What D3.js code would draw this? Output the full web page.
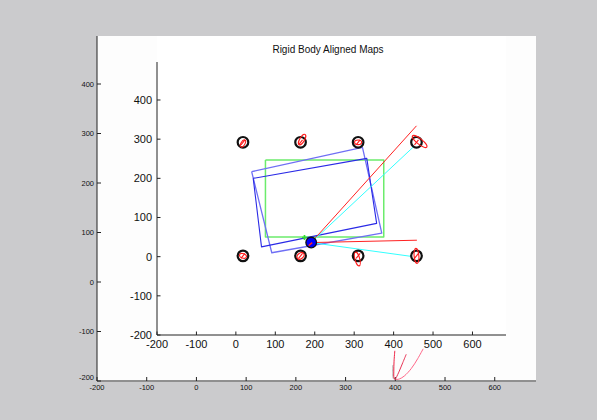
<!DOCTYPE html>
<html>
<head>
<meta charset="utf-8">
<script src="https://cdn.jsdelivr.net/npm/d3@7"></script>
<style>
  body { margin: 0; background: #cbcbcd; }
  svg { display: block; font-family: "Liberation Sans", Arial, sans-serif; }
</style>
</head>
<body>
<svg id="chart" width="597" height="420"></svg>
<script>
const title = "Rigid Body Aligned Maps";
const xTicks = [-200, -100, 0, 100, 200, 300, 400, 500, 600];
const yTicks = [-200, -100, 0, 100, 200, 300, 400];

// landmarks (map units)
const landmarkX = [18, 164, 310, 458, 18, 164, 310, 458];
const landmarkY = [292, 292, 292, 292, 2, 2, 2, 2];
// red uncertainty ellipses around each landmark
const ellipseDx = [0, 4, 0, 8, 0, 0, -2, 0];
const ellipseDy = [-3, 7, 0, 2, 0, 0, -8, 0];
const ellipseRx = [10, 15, 9, 23, 9, 10, 18, 19];
const ellipseRy = [5, 6, 6, 7, 6, 7, 6, 6];
const ellipseAngle = [-60, -60, 0, 38, 20, -40, 75, 85];

// green reference map
const greenX = [75, 375, 375, 75, 75];
const greenY = [247, 247, 50, 50, 247];

// two aligned blue maps
const blue1X = [40, 321, 370, 91, 40];
const blue1Y = [217, 279, 60, 10, 217];
const blue2X = [44, 332, 357, 65, 44];
const blue2Y = [200, 251, 85, 25, 200];

// robot and its rays
const robot = [191, 36];
const greenMark = [174, 49];
const raysEndX = [458, 450, 450, 459];
const raysEndY = [334, 280, 0, 42];
const raysColor = ["#ff2222", "#33ffff", "#33ffff", "#ff2222"];

// stray curves on the background axes
const curves = [
  { color: "#aaaaaa", x: [395, 395, 396, 398], y: [-168, -185, -195, -197] },
  { color: "#ee2244", x: [399, 397.5, 397, 397.5, 400], y: [-139, -160, -180, -194, -197] },
  { color: "#e83355", x: [422, 415, 408, 402, 400], y: [-146, -163, -180, -193, -197] },
  { color: "#ff6688", x: [456, 445, 432, 418, 408, 401], y: [-135, -155, -175, -190, -196, -197] }
];

const svg = d3.select("#chart");

// background axes area
svg.append("rect")
  .attr("x", 97).attr("y", 36)
  .attr("width", 439).attr("height", 346)
  .attr("fill", "#fdfdfd");
svg.append("rect")
  .attr("x", 157).attr("y", 36)
  .attr("width", 349).attr("height", 300)
  .attr("fill", "#ffffff");

function drawAxes(x, y, fontSize, tickLen, labelGap, lowShift) {
  const g = svg.append("g");
  const [x0, x1] = x.range();
  const [y0, y1] = y.range();

  g.append("line")
    .attr("x1", x0).attr("x2", x1)
    .attr("y1", y0).attr("y2", y0)
    .attr("stroke", "#222");
  g.append("line")
    .attr("x1", x0).attr("x2", x0)
    .attr("y1", y0).attr("y2", y1)
    .attr("stroke", "#222");

  // ticks point inward, like matlab
  g.selectAll(".xt").data(xTicks).enter().append("line")
    .attr("x1", d => x(d)).attr("x2", d => x(d))
    .attr("y1", y0).attr("y2", y0 - tickLen)
    .attr("stroke", "#222");
  g.selectAll(".yt").data(yTicks).enter().append("line")
    .attr("x1", x0).attr("x2", x0 + tickLen)
    .attr("y1", d => y(d)).attr("y2", d => y(d))
    .attr("stroke", "#222");

  g.selectAll(".xl").data(xTicks).enter().append("text")
    .attr("x", d => x(d))
    .attr("y", y0 + labelGap + fontSize * 0.75)
    .attr("text-anchor", "middle")
    .style("font-size", fontSize + "px")
    .attr("fill", "#111")
    .text(d => d);
  // lowest y label sits a little higher so it clears the x label
  g.selectAll(".yl").data(yTicks).enter().append("text")
    .attr("x", x0 - labelGap)
    .attr("y", (d, i) => y(d) - (i === 0 ? lowShift : 0))
    .attr("dy", "0.35em")
    .attr("text-anchor", "end")
    .style("font-size", fontSize + "px")
    .attr("fill", "#111")
    .text(d => d);
}

// outer (background) axes
const xo = d3.scaleLinear().domain([-200, 683]).range([97, 536]);
const yo = d3.scaleLinear().domain([-200, 497]).range([381, 36]);
drawAxes(xo, yo, 7.5, 4, 3, 3.5);

// inner map axes
const x = d3.scaleLinear().domain([-200, 685]).range([157, 506]);
const y = d3.scaleLinear().domain([-200, 497]).range([335, 62]);
drawAxes(x, y, 11, 3.5, 5, 0);

svg.append("text")
  .attr("x", 328).attr("y", 53)
  .attr("text-anchor", "middle")
  .style("font-size", "10px")
  .attr("fill", "#111")
  .text(title);

// curves on the outer axes
const lineO = d3.line().x(d => xo(d[0])).y(d => yo(d[1])).curve(d3.curveCatmullRom);
curves.forEach(c => {
  svg.append("path")
    .attr("d", lineO(c.x.map((v, i) => [v, c.y[i]])))
    .attr("fill", "none")
    .attr("stroke", c.color)
    .attr("stroke-width", 1);
});

const line = d3.line().x(d => x(d[0])).y(d => y(d[1]));
const pts = (xs, ys) => xs.map((v, i) => [v, ys[i]]);

// green map
svg.append("path")
  .attr("d", line(pts(greenX, greenY)))
  .attr("fill", "none")
  .attr("stroke", "#6cec6c")
  .attr("stroke-width", 1.5)
  .attr("stroke-linejoin", "round");

// blue maps
svg.append("path")
  .attr("d", line(pts(blue1X, blue1Y)))
  .attr("fill", "none")
  .attr("stroke", "#6f6ff5")
  .attr("stroke-width", 1.3)
  .attr("stroke-linejoin", "round");
svg.append("path")
  .attr("d", line(pts(blue2X, blue2Y)))
  .attr("fill", "none")
  .attr("stroke", "#2a2ae6")
  .attr("stroke-width", 1.1)
  .attr("stroke-linejoin", "round");

// rays from robot
raysEndX.forEach((ex, i) => {
  svg.append("line")
    .attr("x1", x(robot[0])).attr("y1", y(robot[1]))
    .attr("x2", x(ex)).attr("y2", y(raysEndY[i]))
    .attr("stroke", raysColor[i])
    .attr("stroke-width", 1);
});

// landmarks
const lm = svg.selectAll(".lm")
  .data(landmarkX.map((v, i) => i))
  .enter().append("g");

lm.append("circle")
  .attr("cx", i => x(landmarkX[i]))
  .attr("cy", i => y(landmarkY[i]))
  .attr("r", 5.3)
  .attr("fill", "#fff")
  .attr("stroke", "#111")
  .attr("stroke-width", 2.2);

lm.append("ellipse")
  .attr("transform", i => `translate(${x(landmarkX[i] + ellipseDx[i])},${y(landmarkY[i] + ellipseDy[i])}) rotate(${ellipseAngle[i]})`)
  .attr("rx", i => x(ellipseRx[i]) - x(0))
  .attr("ry", i => x(ellipseRy[i]) - x(0))
  .attr("fill", "none")
  .attr("stroke", "#ff1a1a")
  .attr("stroke-width", 1.1);

lm.append("line")
  .attr("x1", i => x(landmarkX[i]) - 2).attr("x2", i => x(landmarkX[i]) + 2)
  .attr("y1", i => y(landmarkY[i]) + 2.5).attr("y2", i => y(landmarkY[i]) - 2.5)
  .attr("stroke", "#ff1a1a")
  .attr("stroke-width", 1.1);

// green mark + robot
svg.append("path")
  .attr("d", d3.symbol(d3.symbolCross, 14)())
  .attr("transform", `translate(${x(greenMark[0])},${y(greenMark[1])})`)
  .attr("fill", "#33dd33");

svg.append("circle")
  .attr("cx", x(robot[0])).attr("cy", y(robot[1]))
  .attr("r", 5.3)
  .attr("fill", "#0000ff")
  .attr("stroke", "#111")
  .attr("stroke-width", 1.3);
svg.append("line")
  .attr("x1", x(robot[0]) - 2.5).attr("y1", y(robot[1]) + 3)
  .attr("x2", x(robot[0]) + 1).attr("y2", y(robot[1]))
  .attr("stroke", "#ff2222")
  .attr("stroke-width", 1.5);
</script>
</body>
</html>
